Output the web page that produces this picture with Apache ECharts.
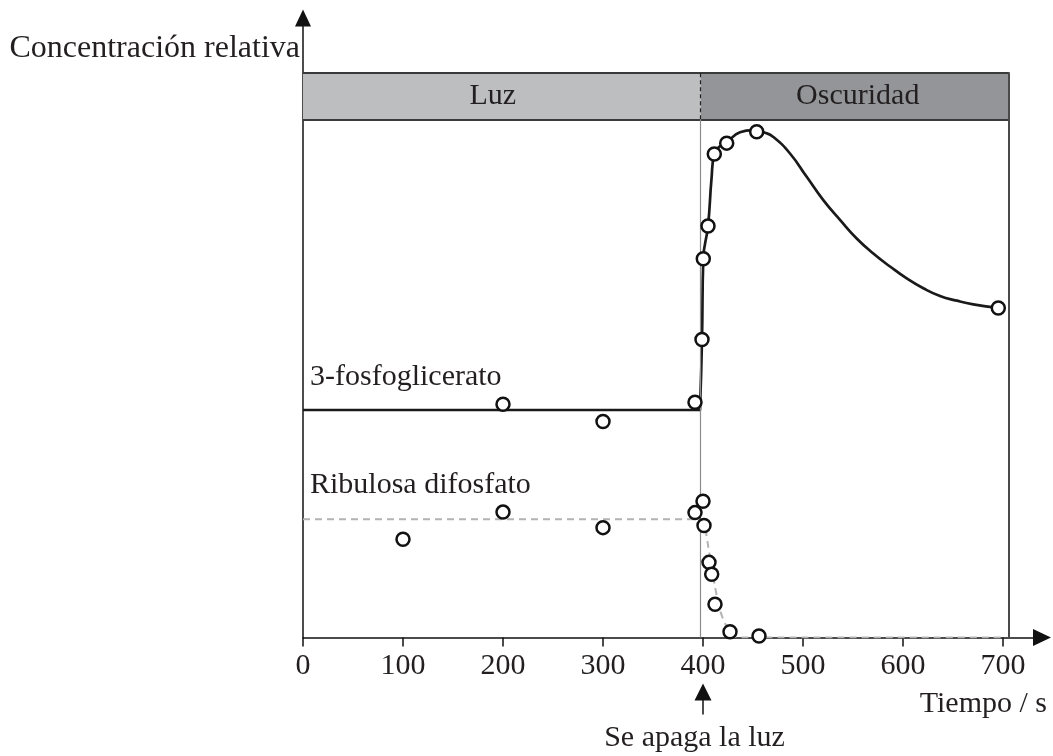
<!DOCTYPE html>
<html>
<head>
<meta charset="utf-8">
<title>Concentración relativa</title>
<script src="https://cdn.jsdelivr.net/npm/echarts@6/dist/echarts.min.js"></script>
<style>
  html, body { margin: 0; padding: 0; background: #ffffff; }
  #chart { width: 1053px; height: 756px; }
</style>
</head>
<body>
<div id="chart"></div>
<script>
// ---- data -------------------------------------------------------------
const xTicks = [0, 100, 200, 300, 400, 500, 600, 700];

// measured 3-fosfoglicerato values [tiempo (s), concentración relativa]
const pgaPoints = [
  [200, 45.0], [300, 41.7], [392, 45.4], [399, 57.5], [400.3, 73.1],
  [405, 79.4], [411.3, 93.3], [423.7, 95.4], [453.7, 97.6], [695.3, 63.6]
];
// steady level in the light and the fitted curve after darkness
const pgaLevel = 43.9;
const pgaCurve = [
  [397, 43.9], [399, 57.5], [400.3, 73.1], [405, 79.4], [408.5, 88.5],
  [411.3, 93.3], [417, 94.8], [423.7, 95.6], [437, 97.5], [450, 97.9],
  [462, 97.4], [470.3, 96.6], [487, 93.4], [503.7, 88.9], [520.3, 84.4],
  [537, 80.6], [553.7, 77.0], [570.3, 74.1], [587, 71.6], [603.7, 69.3],
  [620.3, 67.4], [637, 65.9], [653.7, 65.0], [670.3, 64.3], [695.3, 63.6]
];

// measured ribulosa difosfato values
const rubpPoints = [
  [100, 18.95], [200, 24.2], [300, 21.2], [392, 24.1], [400, 26.3],
  [401, 21.6], [406, 14.5], [408.7, 12.2], [412, 6.4], [427, 1.1], [456, 0.3]
];
const rubpLevel = 22.8;
const rubpCurve = [
  [397, 22.8], [400, 22.5], [402, 21.4], [405.3, 17.5], [408.7, 13.7],
  [412, 9.8], [417, 5.3], [423.7, 2.1], [432, 0.15], [438, 0], [700, 0]
];

const lightOff = 397.5;      // light is switched off here
const arrowAt = 400;         // "Se apaga la luz" marker
const xEnd = 706;            // right edge of the framed plot
const xAxisEnd = 739;        // axis continues to its arrow head
const yAxisEnd = 119.55;
const bandBottom = 100;      // header band (Luz / Oscuridad)
const bandTop = 109.07;

const periods = [
  { name: 'Luz',       from: 0,        to: lightOff, color: '#bcbec0', shift: -9 },
  { name: 'Oscuridad', from: lightOff, to: xEnd,     color: '#939598', shift: 3 }
];

// ---- styling ----------------------------------------------------------
const FONT = 'Liberation Serif';
const INK = '#231f20';
const FS = 30;

const seg = (a, b, style) => [
  { coord: a, lineStyle: style },
  { coord: b, lineStyle: style }
];

const frameStyle = { color: '#3a3a3a', width: 2, type: 'solid' };

const chart = echarts.init(document.getElementById('chart'), null, { renderer: 'canvas' });

const option = {
  animation: false,
  backgroundColor: '#ffffff',
  grid: { left: 303, right: 11, top: 18, bottom: 118.5, containLabel: false },
  xAxis: {
    type: 'value',
    min: 0,
    max: xAxisEnd,
    axisLine: {
      show: true,
      symbol: ['none', 'triangle'],
      symbolSize: [17, 18],
      lineStyle: { color: '#111111', width: 1.5 }
    },
    axisTick: {
      show: true, inside: false, length: 9, customValues: xTicks,
      lineStyle: { color: '#111111', width: 1.5 }
    },
    axisLabel: {
      show: true, customValues: xTicks, margin: 14,
      fontFamily: FONT, fontSize: FS, color: INK
    },
    splitLine: { show: false }
  },
  yAxis: {
    type: 'value',
    min: 0,
    max: yAxisEnd,
    name: 'Concentración relativa',
    nameLocation: 'end',
    nameGap: -31,
    nameMoveOverlap: false,
    nameTextStyle: {
      fontFamily: FONT, fontSize: 32, color: INK,
      align: 'right', verticalAlign: 'middle', padding: [0, 3, 0, 0]
    },
    axisLine: {
      show: true,
      symbol: ['none', 'triangle'],
      symbolSize: [16, 17],
      lineStyle: { color: '#111111', width: 1.5 }
    },
    axisTick: { show: false },
    axisLabel: { show: false },
    splitLine: { show: false }
  },
  series: [
    {
      // header band, frame and light-off boundary
      type: 'line',
      data: [],
      silent: true,
      markArea: {
        silent: true,
        data: periods.map(p => [
          {
            name: p.name,
            xAxis: p.from,
            yAxis: bandBottom,
            itemStyle: { color: p.color },
            label: {
              show: true, position: 'inside', offset: [p.shift, 0],
              fontFamily: FONT, fontSize: FS, color: INK
            }
          },
          { xAxis: p.to, yAxis: bandTop }
        ])
      },
      markLine: {
        silent: true,
        symbol: ['none', 'none'],
        label: { show: false },
        emphasis: { disabled: true },
        data: [
          seg([0, bandTop], [xEnd, bandTop], frameStyle),
          seg([0, bandBottom], [xEnd, bandBottom], frameStyle),
          seg([xEnd, 0], [xEnd, bandTop], { color: '#4a4a4a', width: 2, type: 'solid' }),
          seg([lightOff, bandBottom], [lightOff, bandTop], { color: '#222222', width: 1.2, type: [4, 3] }),
          seg([lightOff, 0], [lightOff, bandBottom], { color: '#8c8c8c', width: 1.2, type: 'solid' })
        ]
      }
    },
    {
      name: 'Ribulosa difosfato (nivel)',
      type: 'line',
      data: [[0, rubpLevel], [lightOff - 0.5, rubpLevel]],
      showSymbol: false,
      silent: true,
      z: 3,
      lineStyle: { color: '#b3b3b3', width: 2, type: [7, 5] }
    },
    {
      name: 'Ribulosa difosfato (ajuste)',
      type: 'line',
      data: rubpCurve,
      smooth: 0.3,
      showSymbol: false,
      silent: true,
      z: 3,
      lineStyle: { color: '#b3b3b3', width: 2, type: [7, 5] }
    },
    {
      name: '3-fosfoglicerato (nivel)',
      type: 'line',
      data: [[0, pgaLevel], [lightOff - 0.5, pgaLevel]],
      showSymbol: false,
      silent: true,
      z: 3,
      lineStyle: { color: '#1a1a1a', width: 2.7 }
    },
    {
      name: '3-fosfoglicerato (ajuste)',
      type: 'line',
      data: pgaCurve,
      smooth: 0.5,
      showSymbol: false,
      silent: true,
      z: 3,
      lineStyle: { color: '#1a1a1a', width: 2.7, cap: 'round', join: 'round' }
    },
    {
      name: 'Ribulosa difosfato',
      type: 'scatter',
      data: rubpPoints,
      symbol: 'circle',
      symbolSize: 13,
      silent: true,
      z: 5,
      itemStyle: { color: '#ffffff', borderColor: '#111111', borderWidth: 2.5, opacity: 1 }
    },
    {
      name: '3-fosfoglicerato',
      type: 'scatter',
      data: pgaPoints,
      symbol: 'circle',
      symbolSize: 13,
      silent: true,
      z: 5,
      itemStyle: { color: '#ffffff', borderColor: '#111111', borderWidth: 2.5, opacity: 1 }
    }
  ]
};

chart.setOption(option);

// ---- annotations placed through the chart's own scales ----------------
const px = v => chart.convertToPixel({ gridIndex: 0 }, v);
const pgaAnchor = px([0, pgaLevel]);
const rubpAnchor = px([0, rubpLevel]);
const axisEnd = px([xAxisEnd, 0]);
const arrowBase = px([arrowAt, 0]);
const ax = arrowBase[0];
const ay = arrowBase[1];

const textStyle = (text, align) => ({
  text, fontFamily: FONT, fontSize: FS, fill: INK, align, verticalAlign: 'middle'
});

chart.setOption({
  graphic: [
    { type: 'text', x: pgaAnchor[0] + 7, y: pgaAnchor[1] - 33, silent: true,
      style: textStyle('3-fosfoglicerato', 'left') },
    { type: 'text', x: rubpAnchor[0] + 7, y: rubpAnchor[1] - 34, silent: true,
      style: textStyle('Ribulosa difosfato', 'left') },
    { type: 'text', x: axisEnd[0] + 5, y: axisEnd[1] + 67, silent: true,
      style: textStyle('Tiempo / s', 'right') },
    { type: 'polygon', silent: true,
      shape: { points: [[ax, ay + 46], [ax - 8.5, ay + 63], [ax + 8.5, ay + 63]] },
      style: { fill: '#111111' } },
    { type: 'line', silent: true,
      shape: { x1: ax, y1: ay + 62, x2: ax, y2: ay + 77 },
      style: { stroke: '#111111', lineWidth: 1.5 } },
    { type: 'text', x: ax - 8.5, y: ay + 101, silent: true,
      style: textStyle('Se apaga la luz', 'center') }
  ]
});
</script>
</body>
</html>
